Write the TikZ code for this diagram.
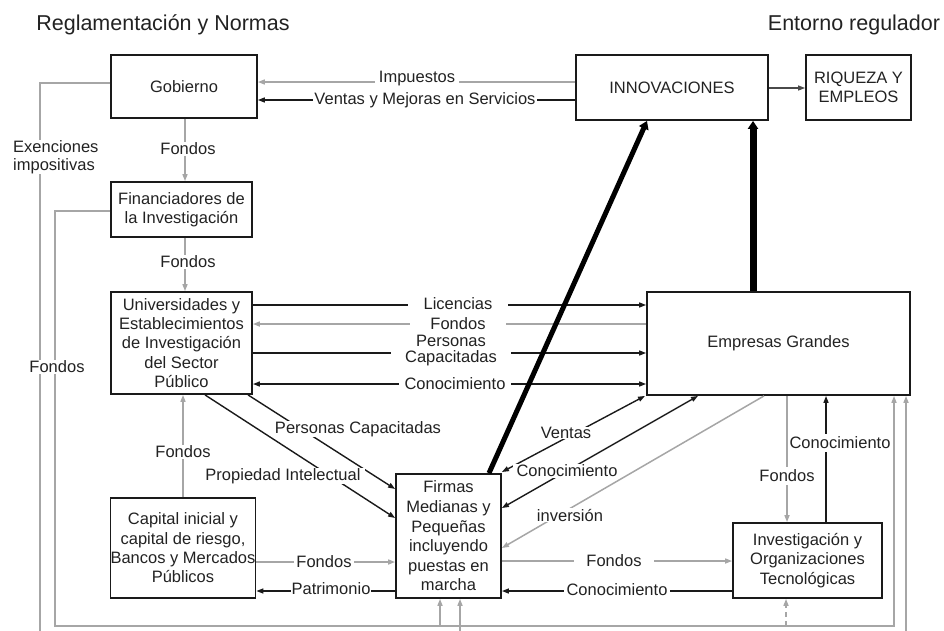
\documentclass[tikz,border=0pt]{standalone}
\usepackage{fontspec}
\setmainfont{Liberation Sans}
\usetikzlibrary{arrows.meta,calc}
\definecolor{gl}{HTML}{A6A6A6}
\definecolor{bl}{HTML}{1A1A1A}
\definecolor{tx}{HTML}{222222}
\definecolor{dg}{HTML}{4A4A4A}
\begin{document}
\begin{tikzpicture}[x=1pt,y=-1pt,
  font=\fontsize{16.5}{19.3}\selectfont, text=tx,
  >={Triangle[length=7pt,width=5pt]},
  box/.style={draw=bl, line width=1.8pt, align=center, inner sep=1pt},
  ga/.style={draw=gl, line width=1.5pt, ->},
  gl0/.style={draw=gl, line width=1.5pt},
  ba/.style={draw=bl, line width=1.4pt, ->},
  bb/.style={draw=bl, line width=1.4pt, <->},
  lab/.style={fill=white, inner xsep=2pt, inner ysep=0.5pt},
  thk/.style={draw=black, line width=#1, -{Triangle[length=8pt,width=10pt]}},
]
\useasboundingbox (0,0) rectangle (944,630);
\clip (0,0) rectangle (944,630);

% headers
\node (h1) at (163,25) {\fontsize{21.5}{24}\selectfont Reglamentación y Normas};
\node (h2) at (854,25) {\fontsize{21.5}{24}\selectfont Entorno regulador};

% boxes
\node[box, minimum width=146pt, minimum height=63pt] (gob) at (184,86.5) {Gobierno};
\node[box, minimum width=192pt, minimum height=65pt] (innov) at (672,87.5) {INNOVACIONES};
\node[box, minimum width=105pt, minimum height=65pt] (riq) at (858.5,87.5) {RIQUEZA Y\\EMPLEOS};
\node[box, minimum width=141pt, minimum height=55pt] (fin) at (181.5,209.5) {Financiadores de\\la Investigación};
\node[box, minimum width=141pt, minimum height=102pt] (univ) at (181.5,343) {Universidades y\\Establecimientos\\de Investigación\\del Sector\\Público};
\node[box, minimum width=144pt, minimum height=100pt, inner xsep=0pt] (cap) at (183,548) {Capital inicial y\\capital de riesgo,\\Bancos y Mercados\\Públicos};
\node[box, minimum width=105pt, minimum height=124pt, font=\fontsize{16.5}{19.6}\selectfont] (firm) at (448.5,536) {Firmas\\Medianas y\\Pequeñas\\incluyendo\\puestas en\\marcha};
\node[box, minimum width=149pt, minimum height=75pt] (inv) at (807.5,560.5) {Investigación y\\Organizaciones\\Tecnológicas};
\node[box, minimum width=263pt, minimum height=103pt] (emp) at (778.5,343.5) {Empresas Grandes};

% Gobierno <-> Innovaciones
\draw[ga] (innov.west|-0,82) -- (gob.east|-0,82);
\draw[ba] (innov.west|-0,100) -- (gob.east|-0,100);
\node[lab, inner xsep=4pt] (lImp) at (417,79) {Impuestos};
\node[lab, inner xsep=1pt] (lVen) at (425,100) {Ventas y Mejoras en Servicios};

% Innovaciones -> Riqueza
\draw[draw=dg, line width=1.2pt, ->] (innov.east|-0,88) -- (riq.west|-0,88);

% vertical funding chain
\draw[ga] (gob.south-|185,0) -- (fin.north-|185,0);
\node[lab] (lF1) at (188,149) {Fondos};
\draw[ga] (fin.south-|185,0) -- (univ.north-|185,0);
\node[lab] (lF2) at (188,262) {Fondos};

% outer loops
\draw[ga] (gob.west|-0,83) -- (40,83) -- (40,645) -- (906,645) -- (emp.south-|906,0);
\draw[ga] (460,645) -- (firm.south-|460,0);
\node[lab, align=left, anchor=west, font=\fontsize{16.5}{18}\selectfont] (lEx) at (11,157) {Exenciones\\impositivas};

\draw[ga] (fin.west|-0,211) -- (55,211) -- (55,626) -- (894,626) -- (emp.south-|894,0);
\draw[ga] (440,626) -- (firm.south-|440,0);
\draw[ga, dash pattern=on 5pt off 4pt] (786,626) -- (inv.south-|786,0);
\node[lab] (lF3) at (57,367) {Fondos};

% Universidades <-> Empresas
\draw[ba] (univ.east|-0,305) -- (emp.west|-0,305);
\draw[ga] (emp.west|-0,324) -- (univ.east|-0,324);
\draw[ba] (univ.east|-0,353) -- (emp.west|-0,353);
\draw[bb] (univ.east|-0,384) -- (emp.west|-0,384);
\node[lab, inner xsep=16pt] (lLic) at (458,304) {Licencias};
\node[lab, inner xsep=20pt] (lFo4) at (458,324) {Fondos};
\node[lab, inner xsep=14pt, align=center, font=\fontsize{16.5}{16}\selectfont] (lPC) at (451,351) {Personas\\Capacitadas};
\node[lab, inner xsep=6pt] (lCo1) at (455,384) {Conocimiento};

% Universidades -> Firmas
\draw[ba] (univ.south-|248,0) -- (firm.west|-0,489);
\draw[ba] (univ.south-|205,0) -- (firm.west|-0,518);
\node[lab, inner xsep=4pt] (lPC2) at (358,429) {Personas Capacitadas};
\node[lab, inner xsep=4pt] (lPI) at (283,476) {Propiedad Intelectual};

% Capital <-> Universidades / Firmas
\draw[ga] (cap.north-|183,0) -- (univ.south-|183,0);
\node[lab] (lF5) at (183,452) {Fondos};
\draw[ga] (cap.east|-0,562) -- (firm.west|-0,562);
\node[lab] (lF6) at (324,562) {Fondos};
\draw[ba] (firm.west|-0,591) -- (cap.east|-0,591);
\node[lab, inner xsep=1pt] (lPat) at (331,589) {Patrimonio};

% Firmas <-> Investigacion
\draw[ga] (firm.east|-0,561) -- (inv.west|-0,561);
\node[lab, inner xsep=12pt] (lF7) at (614,561) {Fondos};
\draw[ba] (inv.west|-0,591) -- (firm.east|-0,591);
\node[lab, inner xsep=3pt] (lCo2) at (617,590) {Conocimiento};

% Empresas <-> Investigacion
\draw[ga] (emp.south-|787,0) -- (inv.north-|787,0);
\node[lab, inner xsep=1pt, inner ysep=3pt] (lF8) at (787,476) {Fondos};
\draw[ba] (inv.north-|826,0) -- (emp.south-|826,0);
\node[lab, inner xsep=0pt, inner ysep=3pt] (lCo3) at (840,443) {Conocimiento};

% Empresas <-> Firmas diagonals
\draw[bb] (emp.south-|645,0) -- (firm.east|-0,472);
\draw[bb] (emp.south-|698,0) -- (firm.east|-0,508);
\draw[ga] (emp.south-|764,0) -- (firm.east|-0,548);
\node[lab, inner xsep=5pt] (lVt) at (566,433) {Ventas};
\node[lab, inner xsep=4pt] (lCo4) at (567,471) {Conocimiento};
\node[lab, inner xsep=6pt] (lInv) at (570,515) {inversión};

% thick arrows to Innovaciones
\draw[thk=5pt] (firm.north-|489,0) -- (innov.south-|647,0);
\draw[thk=7pt] (emp.north-|753,0) -- (innov.south-|753,0);
\end{tikzpicture}
\end{document}
